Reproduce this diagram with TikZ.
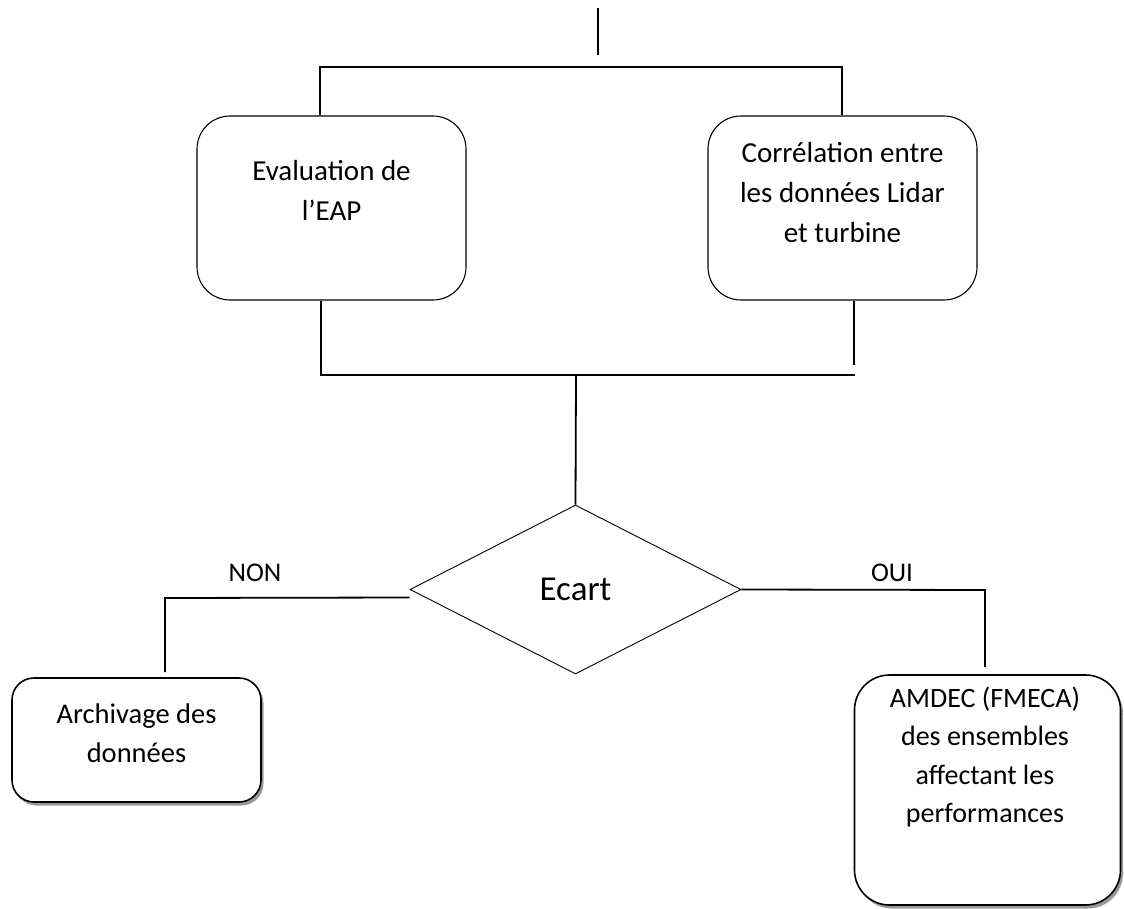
\documentclass[tikz,border=0pt]{standalone}
\usepackage{fontspec}
\setmainfont{Carlito}
\usetikzlibrary{shapes.geometric,calc,shadows}
\newcommand{\lines}[1]{\setlength{\tabcolsep}{0pt}\begin{tabular}[t]{c}#1\end{tabular}}
\begin{document}
\begin{tikzpicture}[x=1pt,y=-1pt,
  conn/.style={line width=1.8pt, line cap=butt},
  procbox/.style={draw, line width=1.1pt, rounded corners=33pt, inner sep=0pt},
  endbox/.style={draw, line width=1.6pt, fill=white, inner sep=0pt,
    drop shadow={shadow xshift=2.5pt, shadow yshift=-3.5pt, fill=black, opacity=0.4}},
  boxtext/.style={anchor=base, inner sep=0pt, font=\fontsize{29}{40}\selectfont},
  lowtext/.style={anchor=base, inner sep=0pt, font=\fontsize{28.5}{39}\selectfont},
  choice/.style={anchor=base, inner sep=0pt, font=\fontsize{27}{32}\selectfont},
  decision/.style={draw, diamond, line width=0.9pt, inner sep=0pt,
    minimum width=331pt, minimum height=169pt, font=\fontsize{35}{42}\selectfont}
]
\fill[white] (0,0) rectangle (1124,909);
\useasboundingbox (0,0) rectangle (1124,909);

% process boxes
\node[procbox, minimum width=269pt, minimum height=184pt] (eap) at (331.5,208) {};
\node[procbox, minimum width=269pt, minimum height=184pt] (cor) at (842.5,208) {};
\node[boxtext] (eapt) at (331.5,181) {\lines{Evaluation de\\l’EAP}};
\node[boxtext] (cort) at (842.5,163) {\lines{Corrélation entre\\les données Lidar\\et turbine}};

% decision
\node[decision] (dec) at (575.5,589.5) {Ecart};

% outcome boxes
\node[endbox, rounded corners=22pt, minimum width=249pt, minimum height=124pt] (arc) at (136.5,740) {};
\node[lowtext] (arct) at (136.5,723) {\lines{Archivage des\\données}};
\node[endbox, rounded corners=35pt, minimum width=266pt, minimum height=230pt] (amd) at (987.5,790) {};
\node[lowtext, font=\fontsize{28}{38.5}\selectfont] (amdt) at (985,707) {\lines{AMDEC (FMECA)\\des ensembles\\affectant les\\performances}};

% branch labels
\node[choice] (non) at (255,581) {NON};
\node[choice] (oui) at (892,581) {OUI};

% junction points
\coordinate (inTop) at (598,8);
\coordinate (inEnd) at (598,55);
\coordinate (splitL) at (320,67);
\coordinate (splitR) at (842,67);
\coordinate (joinL) at (321,375);
\coordinate (joinR) at (855,375);
\coordinate (joinRup) at (854,365);
\coordinate (joinM) at (576,375);
\coordinate (nonC) at (165,598);
\coordinate (nonEnd) at (165,672);
\coordinate (ouiC) at (985,590);
\coordinate (ouiEnd) at (985,667);

% connectors
\draw[conn] (inTop) -- (inEnd);
\draw[conn] (splitL |- eap.north) -- (splitL) -- (splitR) -- (splitR |- cor.north);
\draw[conn] (joinL |- eap.south) -- (joinL) -- (joinR);
\draw[conn] (joinRup |- cor.south) -- (joinRup);
\draw[conn] (joinM) -- (dec.north);
\draw[conn] ($(dec.west)+(0,8)$) -- (nonC) -- (nonEnd);
\draw[conn] (dec.east) -- (ouiC) -- (ouiEnd);
\end{tikzpicture}
\end{document}
